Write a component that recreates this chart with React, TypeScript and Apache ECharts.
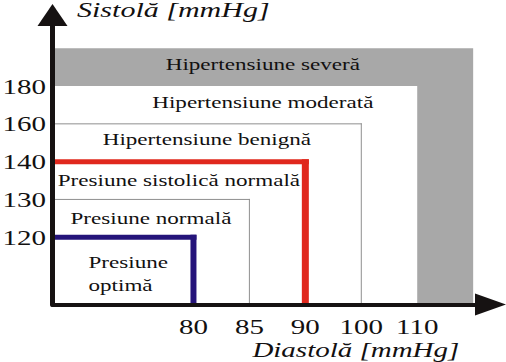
import React, { useEffect, useRef } from 'react';
import * as echarts from 'echarts';

// ---- data ----
const SYS_TICKS = [120, 130, 140, 160, 180];
const DIA_TICKS = [80, 85, 90, 100, 110];
const REGION_NAMES = [
  'Presiune\noptimă',
  'Presiune normală',
  'Presiune sistolică normală',
  'Hipertensiune benignă',
  'Hipertensiune moderată',
  'Hipertensiune severă',
];
// upper limits of each class (null = open ended)
const REGION_SYS_MAX: (number | null)[] = [120, 130, 140, 160, 180, null];
const REGION_DIA_MAX: (number | null)[] = [80, 85, 90, 100, 110, null];
const Y_TITLE = 'Sistolă [mmHg]';
const X_TITLE = 'Diastolă [mmHg]';

// ordinal scale: tick index; an open limit is one step past the last tick
const dPos = (v: number | null) => (v == null ? DIA_TICKS.length : DIA_TICKS.indexOf(v));
const sPos = (v: number | null) => (v == null ? SYS_TICKS.length : SYS_TICKS.indexOf(v));

// ---- layout / style ----
const X_MIN = -2.52;
const X_MAX = 5.31;
const Y_MIN = -1.78;
const Y_MAX = 5.88;
const SERIF = 'Liberation Serif';
const STRETCH = 1.4;
const INK = '#121010';
const AXIS_COLOR = '#161212';
const SEVERE_FILL = '#a8a8a8';
const BORDERS: ({ color: string; top: number; side: number } | null)[] = [
  { color: '#25147a', top: 5, side: 6 },
  { color: '#8e8e8e', top: 1, side: 1 },
  { color: '#e0281d', top: 5, side: 7 },
  { color: '#8e8e8e', top: 1, side: 1 },
  null,
  null,
];

export default function App() {
  const ref = useRef<HTMLDivElement>(null);

  useEffect(() => {
    document.body.style.margin = '0';
    if (!ref.current) return;
    const chart = echarts.init(ref.current, null, { renderer: 'svg' });

    const regionData = REGION_NAMES.map((name, i) => ({
      name,
      value: [
        dPos(REGION_DIA_MAX[i]),
        sPos(REGION_SYS_MAX[i]),
        i > 0 ? dPos(REGION_DIA_MAX[i - 1]) : X_MIN,
        i > 0 ? sPos(REGION_SYS_MAX[i - 1]) : Y_MIN,
      ],
    }));

    const renderRegion = (params: any, api: any) => {
      const i = params.dataIndex;
      const d = api.value(0);
      const s = api.value(1);
      const pd = api.value(2);
      const ps = api.value(3);
      const [ox, oy] = api.coord([X_MIN, Y_MIN]);
      const [xd, ys] = api.coord([d, s]);
      const yPrev = api.coord([X_MIN, ps])[1];
      const xOpen = api.coord([DIA_TICKS.length, Y_MIN])[0];
      const children: any[] = [];
      if (REGION_DIA_MAX[i] == null) {
        const pts = [
          [X_MIN, s],
          [d, s],
          [d, Y_MIN],
          [pd, Y_MIN],
          [pd, ps],
          [X_MIN, ps],
        ].map((p) => api.coord(p));
        children.push({ type: 'polygon', shape: { points: pts }, style: { fill: SEVERE_FILL } });
      }
      const b = BORDERS[i];
      if (b) {
        children.push({
          type: 'line',
          shape: { x1: ox, y1: ys, x2: xd + b.side / 2, y2: ys },
          style: { stroke: b.color, lineWidth: b.top },
        });
        children.push({
          type: 'line',
          shape: { x1: xd, y1: ys - b.top / 2, x2: xd, y2: oy },
          style: { stroke: b.color, lineWidth: b.side },
        });
      }
      const wide = i >= REGION_NAMES.length - 2;
      const cx = (ox + (wide ? xOpen : xd)) / 2;
      const cy = (ys + yPrev) / 2 + (i === 0 ? 3 : i >= 3 ? -3 : 0);
      const multi = REGION_NAMES[i].includes('\n');
      children.push({
        type: 'text',
        x: multi ? cx - 34.5 : cx,
        y: cy,
        scaleX: STRETCH,
        style: {
          text: REGION_NAMES[i],
          fontSize: 16.5,
          fontFamily: SERIF,
          fill: INK,
          align: multi ? 'left' : 'center',
          verticalAlign: 'middle',
          lineHeight: 23,
        },
      });
      return { type: 'group', children };
    };

    const yTickData = SYS_TICKS.map((v, i) => ({ name: String(v), value: [X_MIN, i] }));
    const xTickData = DIA_TICKS.map((v, i) => ({ name: String(v), value: [i, Y_MIN] }));

    const tickStyle = {
      fontSize: 21,
      fontFamily: SERIF,
      fill: INK,
      verticalAlign: 'middle',
    };
    const renderYTick = (params: any, api: any) => {
      const [x, y] = api.coord([api.value(0), api.value(1)]);
      return {
        type: 'text',
        x: x - 6.5,
        y,
        scaleX: 1.38,
        style: { ...tickStyle, text: String(SYS_TICKS[params.dataIndex]), align: 'right' },
      };
    };
    const renderXTick = (params: any, api: any) => {
      const [x, y] = api.coord([api.value(0), api.value(1)]);
      return {
        type: 'text',
        x,
        y: y + 22,
        scaleX: 1.38,
        style: { ...tickStyle, text: String(DIA_TICKS[params.dataIndex]), align: 'center' },
      };
    };
    const renderTitles = (_params: any, api: any) => {
      const [yx, yy] = api.coord([X_MIN, Y_MAX]);
      const [xx, xy] = api.coord([1, Y_MIN]);
      const common = {
        fontSize: 21,
        fontStyle: 'italic',
        fontFamily: SERIF,
        lineHeight: 20,
        fill: INK,
        align: 'left',
        verticalAlign: 'middle',
      };
      return {
        type: 'group',
        children: [
          { type: 'text', x: yx + 24.5, y: yy - 4.5, scaleX: 1.43, style: { ...common, text: Y_TITLE } },
          { type: 'text', x: xx + 3, y: xy + 45.5, scaleX: 1.38, style: { ...common, text: X_TITLE } },
        ],
      };
    };

    const axisCommon = {
      type: 'value' as const,
      axisTick: { show: false },
      axisLabel: { show: false },
      splitLine: { show: false },
      z: 10,
    };

    chart.setOption({
      animation: false,
      backgroundColor: '#ffffff',
      grid: { left: 52.5, right: 15.5, top: 15, bottom: 57.5 },
      xAxis: {
        ...axisCommon,
        min: X_MIN,
        max: X_MAX,
        axisLine: {
          show: true,
          onZero: false,
          symbol: ['none', 'triangle'],
          symbolSize: [22, 31],
          lineStyle: { color: AXIS_COLOR, width: 4 },
        },
      },
      yAxis: {
        ...axisCommon,
        min: Y_MIN,
        max: Y_MAX,
        axisLine: {
          show: true,
          onZero: false,
          symbol: ['none', 'triangle'],
          symbolSize: [30, 22],
          lineStyle: { color: AXIS_COLOR, width: 5 },
        },
      },
      series: [
        { type: 'custom', name: 'regions', clip: false, silent: true, data: regionData, renderItem: renderRegion },
        { type: 'custom', name: 'yTicks', clip: false, silent: true, data: yTickData, renderItem: renderYTick },
        { type: 'custom', name: 'xTicks', clip: false, silent: true, data: xTickData, renderItem: renderXTick },
        { type: 'custom', name: 'titles', clip: false, silent: true, data: [[X_MIN, Y_MAX]], renderItem: renderTitles },
      ],
    });

    return () => chart.dispose();
  }, []);

  return <div ref={ref} style={{ width: 506, height: 362 }} />;
}
